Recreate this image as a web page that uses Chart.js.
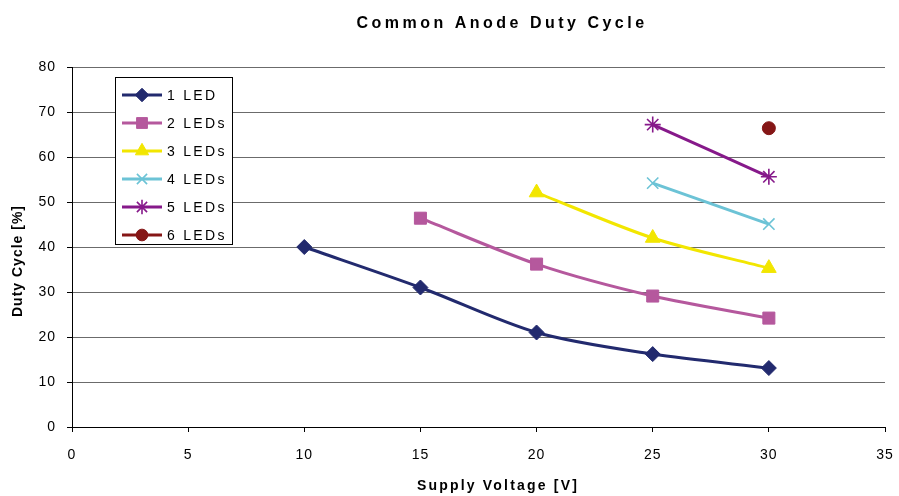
<!DOCTYPE html>
<html>
<head>
<meta charset="utf-8">
<script src="https://cdn.jsdelivr.net/npm/chart.js@4/dist/chart.umd.min.js"></script>
<style>
html,body{margin:0;padding:0;background:#fff;}
#wrap{width:899px;height:496px;position:relative;}
</style>
</head>
<body>
<div id="wrap"><canvas id="c" width="899" height="496"></canvas></div>
<script>
const chartTitle = "Common Anode Duty Cycle";
const xAxisTitle = "Supply Voltage [V]";
const yAxisTitle = "Duty Cycle [%]";
const voltages = [10, 15, 20, 25, 30];
const seriesNames = ["1 LED", "2 LEDs", "3 LEDs", "4 LEDs", "5 LEDs", "6 LEDs"];
const led1 = [40, 31, 21, 16.2, 13.1];
const led2 = [null, 46.4, 36.2, 29.1, 24.2];
const led3 = [null, null, 52.1, 42, 35.3];
const led4 = [null, null, null, 54.2, 45.1];
const led5 = [null, null, null, 67.2, 55.6];
const led6 = [null, null, null, null, 66.4];
const xTicks = [0, 5, 10, 15, 20, 25, 30, 35];
const yTicks = [0, 10, 20, 30, 40, 50, 60, 70, 80];

const seriesValues = [led1, led2, led3, led4, led5, led6];
const colors = ["#222a6e", "#b5589d", "#f2e600", "#6cc3d6", "#86198a", "#851616"];
const styles = ["rectRot", "rect", "triangle", "crossRot", "star", "circle"];
const radii = [7.5, 8.5, 8.5, 8, 8, 6.5];

const datasets = seriesValues.map((vals, i) => ({
  label: seriesNames[i],
  data: voltages.map((v, j) => ({x: v, y: vals[j]})).filter(p => p.y !== null),
  borderColor: colors[i],
  backgroundColor: colors[i],
  pointBackgroundColor: colors[i],
  pointBorderColor: colors[i],
  pointStyle: styles[i],
  pointRadius: radii[i],
  pointBorderWidth: (styles[i] === "crossRot" || styles[i] === "star") ? 1.6 : 1,
  borderWidth: 3,
  tension: 0.3,
  showLine: true,
  clip: false
}));

const textPlugin = {
  id: 'textPlugin',
  beforeDraw(chart) {
    chart.ctx.letterSpacing = '1px';
  },
  afterDatasetsDraw(chart) {
    const ctx = chart.ctx;
    const H = Chart.helpers;
    ctx.save();
    const bx = 115.5, by = 77.5, bw = 117, bh = 167;
    ctx.fillStyle = '#fff';
    ctx.fillRect(bx, by, bw, bh);
    ctx.strokeStyle = '#000';
    ctx.lineWidth = 1;
    ctx.strokeRect(bx, by, bw, bh);
    chart.data.datasets.forEach((ds, i) => {
      const y = 95 + i * 28;
      ctx.strokeStyle = ds.borderColor;
      ctx.lineWidth = 3;
      ctx.beginPath();
      ctx.moveTo(122, y);
      ctx.lineTo(162, y);
      ctx.stroke();
      ctx.fillStyle = ds.backgroundColor;
      ctx.lineWidth = ds.pointBorderWidth;
      H.drawPoint(ctx, {pointStyle: ds.pointStyle, radius: ds.pointRadius * 0.9, rotation: 0, borderWidth: ds.pointBorderWidth}, 142, y);
      ctx.letterSpacing = '2.3px';
      ctx.fillStyle = '#000';
      ctx.font = '14px "Liberation Sans", Arial, sans-serif';
      ctx.textAlign = 'left';
      ctx.textBaseline = 'middle';
      ctx.fillText(ds.label, 167, y + 1);
    });
    ctx.restore();
  },
  afterDraw(chart) {
    const ctx = chart.ctx;
    ctx.save();
    ctx.fillStyle = '#000';
    ctx.textAlign = 'center';
    ctx.textBaseline = 'middle';
    ctx.letterSpacing = '3.5px';
    ctx.font = 'bold 16px "Liberation Sans", Arial, sans-serif';
    ctx.fillText(chartTitle, 502, 24);
    ctx.letterSpacing = '2.2px';
    ctx.font = 'bold 14px "Liberation Sans", Arial, sans-serif';
    ctx.fillText(xAxisTitle, 498, 486);
    ctx.translate(18, 261);
    ctx.rotate(-Math.PI / 2);
    ctx.letterSpacing = '1px';
    ctx.font = 'bold 14px "Liberation Sans", Arial, sans-serif';
    ctx.fillText(yAxisTitle, 0, 0);
    ctx.restore();
  }
};

new Chart(document.getElementById('c'), {
  type: 'scatter',
  data: {datasets},
  plugins: [textPlugin],
  options: {
    responsive: false,
    animation: false,
    devicePixelRatio: 1,
    layout: {padding: {left: 0, right: 14, top: 67, bottom: 0}},
    plugins: {legend: {display: false}, title: {display: false}, tooltip: {enabled: false}},
    scales: {
      x: {
        type: 'linear', min: 0, max: 35,
        afterFit(s) { s.height = 69; s.paddingLeft = 0; s.paddingRight = 0; },
        afterBuildTicks(s) { s.ticks = xTicks.map(v => ({value: v})); },
        ticks: {color: '#000', padding: 15, font: {size: 14, family: '"Liberation Sans", Arial, sans-serif'}},
        grid: {drawOnChartArea: false, color: '#000', tickColor: '#000', tickLength: 5},
        border: {display: true, color: '#000', width: 1}
      },
      y: {
        type: 'linear', min: 0, max: 80,
        afterFit(s) { s.width = 72; s.paddingTop = 0; s.paddingBottom = 0; },
        afterBuildTicks(s) { s.ticks = yTicks.map(v => ({value: v})); },
        ticks: {color: '#000', padding: 11, font: {size: 14, family: '"Liberation Sans", Arial, sans-serif'}},
        grid: {color: '#6b6b6b', tickColor: '#000', tickLength: 5, lineWidth: 1},
        border: {display: true, color: '#000', width: 1}
      }
    }
  }
});
</script>
</body>
</html>
